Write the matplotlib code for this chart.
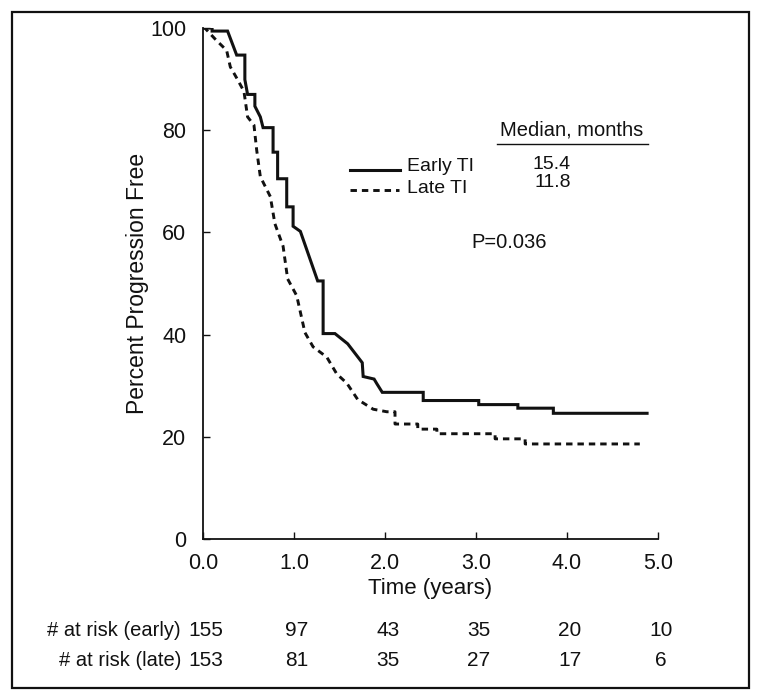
import matplotlib
matplotlib.use("Agg")
import matplotlib.pyplot as plt
from matplotlib.patches import Rectangle
import matplotlib.transforms as mtransforms

plt.rcParams['font.family'] = ['Liberation Sans', 'DejaVu Sans']

# ---- data ----
early_t = [0, 0.10, 0.10, 0.27, 0.37, 0.46, 0.46, 0.49, 0.57, 0.57, 0.63, 0.66, 0.70, 0.77,
           0.77, 0.82, 0.82, 0.92, 0.92, 0.99, 0.99, 1.07, 1.26, 1.32, 1.32, 1.45, 1.59, 1.75,
           1.76, 1.88, 1.91, 1.97, 2.42, 2.42, 3.03, 3.03, 3.46, 3.46, 3.85, 3.85, 4.88]
early_s = [100, 100, 99.4, 99.4, 94.7, 94.7, 89.9, 87.0, 87.0, 84.7, 82.6, 80.5, 80.5, 80.5,
           75.7, 75.7, 70.5, 70.5, 65.0, 65.0, 61.2, 60.2, 50.5, 50.5, 40.2, 40.2, 38.2, 34.5,
           31.8, 31.3, 30.4, 28.7, 28.7, 27.1, 27.1, 26.3, 26.3, 25.6, 25.6, 24.6, 24.6]

late_t = [0, 0.02, 0.13, 0.26, 0.30, 0.38, 0.45, 0.49, 0.56, 0.59, 0.63, 0.74, 0.79, 0.88,
          0.93, 1.03, 1.12, 1.21, 1.36, 1.47, 1.58, 1.70, 1.87, 2.02, 2.11, 2.11, 2.36, 2.36,
          2.57, 2.57, 3.21, 3.21, 3.54, 3.54, 4.80]
late_s = [100, 100, 97.9, 95.6, 92.4, 89.9, 87.6, 82.6, 81.0, 76.1, 70.9, 67.0, 61.7, 57.3,
          50.9, 47.6, 40.4, 37.6, 35.6, 32.3, 30.5, 27.3, 25.4, 24.9, 24.9, 22.5, 22.5, 21.5,
          21.5, 20.6, 20.6, 19.6, 19.6, 18.6, 18.6]

x_ticks = [0, 1, 2, 3, 4, 5]
x_ticklabels = ['0.0', '1.0', '2.0', '3.0', '4.0', '5.0']
y_ticks = [0, 20, 40, 60, 80, 100]

groups = ['Early TI', 'Late TI']
medians = ['15.4', '11.8']
p_text = 'P=0.036'
risk_labels = ['# at risk (early)', '# at risk (late)']
risk_early = [155, 97, 43, 35, 20, 10]
risk_late = [153, 81, 35, 27, 17, 6]

# ---- figure ----
fig = plt.figure(figsize=(7.59, 6.99), dpi=100)
ax = fig.add_axes([203/759, 1 - 539/699, 455/759, 511/699])

ink = '#111111'
solid_lw = 2.2
dash_lw = 2.1
dash_style = (0, (2.2, 1.7))
ax.plot(early_t, early_s, color=ink, lw=solid_lw, solid_joinstyle='miter')
ax.plot(late_t, late_s, color=ink, lw=dash_lw, linestyle=dash_style)

ax.set_xlim(0, 5)
ax.set_ylim(0, 100)
for s in ['top', 'right']:
    ax.spines[s].set_visible(False)
for s in ['left', 'bottom']:
    ax.spines[s].set_linewidth(1.3)
    ax.spines[s].set_color(ink)
ax.set_xticks(x_ticks)
ax.set_xticklabels(x_ticklabels)
ax.set_yticks(y_ticks)
ax.tick_params(axis='both', direction='in', length=5, width=1.0, color=ink,
               labelsize=15.5, labelcolor=ink)
ax.tick_params(axis='x', pad=10)
ax.tick_params(axis='y', pad=12)
ax.set_xlabel('Time (years)', fontsize=16, color=ink, labelpad=3)
ax.set_ylabel('Percent Progression Free', fontsize=16.5, color=ink, labelpad=1)

# legend-like annotation
ax.text(0.653, 0.800, 'Median, months', transform=ax.transAxes, fontsize=14.5,
        color=ink, va='center', ha='left')
ax.plot([0.646, 0.978], [0.773, 0.773], transform=ax.transAxes, color=ink, lw=1.0,
        clip_on=False)
ax.plot([0.323, 0.433], [0.722, 0.722], transform=ax.transAxes, color=ink, lw=solid_lw)
ax.plot([0.323, 0.430], [0.683, 0.683], transform=ax.transAxes, color=ink, lw=dash_lw,
        linestyle=dash_style)
ax.text(0.448, 0.729, groups[0], transform=ax.transAxes, fontsize=14, color=ink,
        va='center', ha='left')
ax.text(0.448, 0.686, groups[1], transform=ax.transAxes, fontsize=14, color=ink,
        va='center', ha='left')
ax.text(0.725, 0.732, medians[0], transform=ax.transAxes, fontsize=14, color=ink,
        va='center', ha='left')
ax.text(0.729, 0.697, medians[1], transform=ax.transAxes, fontsize=14, color=ink,
        va='center', ha='left')
ax.text(0.589, 0.581, p_text, transform=ax.transAxes, fontsize=14.5, color=ink,
        va='center', ha='left')

# at-risk table
trans = mtransforms.blended_transform_factory(ax.transData, fig.transFigure)
row_y = [1 - 631/699, 1 - 661/699]
for lab, vals, yy in zip(risk_labels, [risk_early, risk_late], row_y):
    fig.text(181/759, yy, lab, fontsize=14.5, color=ink, ha='right', va='center')
    for xt, v in zip(x_ticks, vals):
        ax.text(xt + 0.03, yy, str(v), transform=trans, fontsize=15, color=ink,
                ha='center', va='center', clip_on=False)

# outer frame
fig.patches.append(Rectangle((12/759, 1 - 688/699), (749 - 12)/759, (688 - 12)/699,
                             transform=fig.transFigure, fill=False, edgecolor=ink,
                             lw=1.6))

fig.savefig('out.png', dpi=100)
